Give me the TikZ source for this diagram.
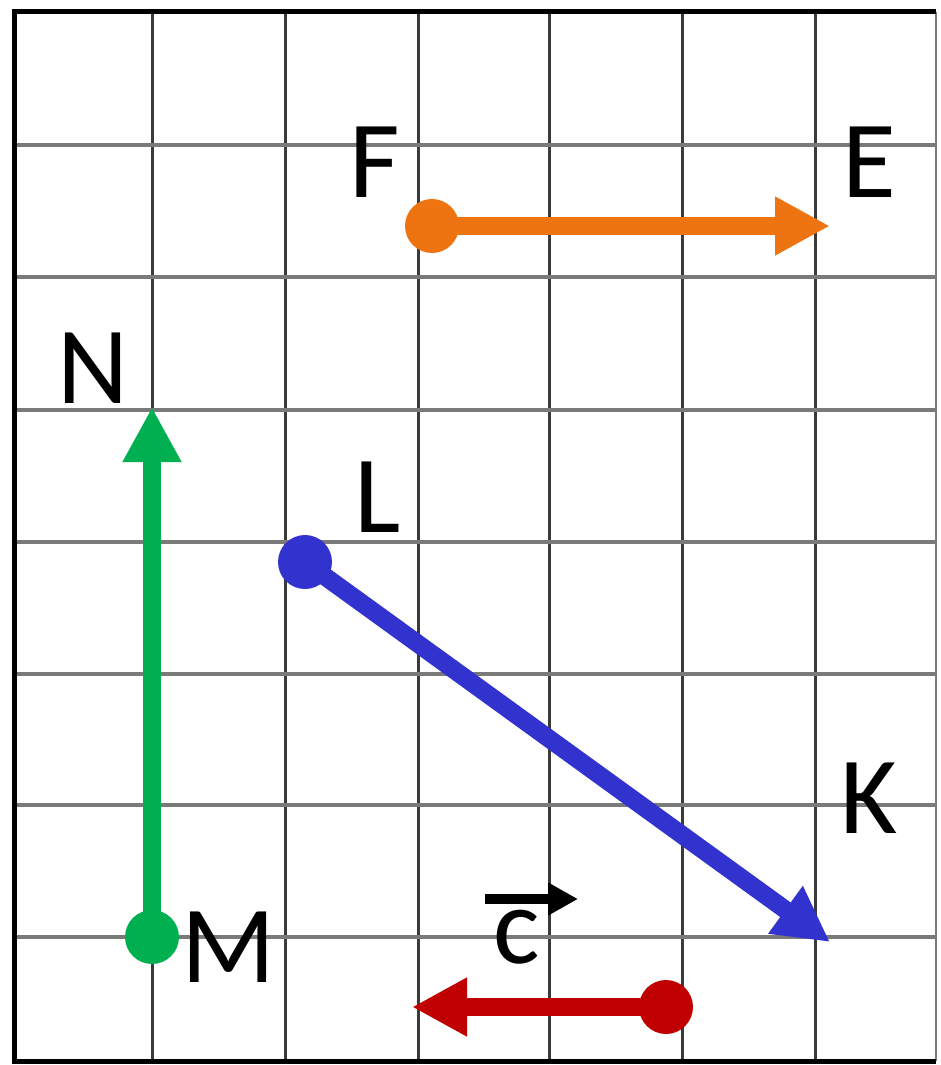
\documentclass[tikz,border=0pt]{standalone}
\usepackage{fontspec}
\setmainfont{Carlito}
\usetikzlibrary{arrows.meta}
\definecolor{vorange}{HTML}{EE7411}
\definecolor{vgreen}{HTML}{00B050}
\definecolor{vblue}{HTML}{3232CF}
\definecolor{vred}{HTML}{C00000}
\definecolor{hgrid}{HTML}{7A7A7A}
\definecolor{vgrid}{HTML}{3A3A3A}
\begin{document}
\begin{tikzpicture}[x=1pt,y=-1pt,
  vec/.style={line width=18pt,-{Triangle[length=55pt,width=55pt]}},
  dot/.style={circle,fill,inner sep=0pt,minimum size=54pt},
  lbl/.style={anchor=base,inner sep=0pt,font=\fontsize{110}{120}\selectfont}]
\useasboundingbox (0,0) rectangle (940,1065);
\fill[white] (0,0) rectangle (940,1065);
% grid
\foreach \x in {152,285,418,549,682,815} \draw[vgrid,line width=3pt] (\x,12) -- (\x,1061);
\foreach \y in {145,277,410,542,674,805,937} \draw[hgrid,line width=4pt] (14,\y) -- (936,\y);
\draw[hgrid,line width=2pt] (936,12) -- (936,1061);
\draw[black,line width=5pt] (936,12) -- (14,12) -- (14,1061) -- (936,1061);
% points
\coordinate (E) at (830,226);
\coordinate (N) at (152,407);
\coordinate (K) at (830,942);
\coordinate (Rtip) at (412,1007);
\node[dot,vorange] (F) at (432,226) {};
\node[dot,vgreen] (M) at (152,937) {};
\node[dot,vblue] (L) at (305,562) {};
\node[dot,vred] (R) at (666,1007) {};
% vectors
\draw[vec,vorange] (F.center) -- (E);
\draw[vec,vgreen] (M.center) -- (N);
\draw[vec,vblue] (L.center) -- (K);
\draw[vec,vred] (R.center) -- (Rtip);
% labels
\node[lbl] (tF) at (375,197) {F};
\node[lbl] (tE) at (869,197) {E};
\node[lbl] (tN) at (93,403) {N};
\node[lbl] (tL) at (378,532) {L};
\node[lbl] (tK) at (869,833) {K};
\node[lbl] (tM) at (229,982) {M};
\node[lbl] (tc) at (517,963) {c};
\coordinate (ca) at (485,899);
\coordinate (cb) at (578,899);
\draw[line width=10pt,-{Triangle[length=30pt,width=31pt]}] (ca) -- (cb);
\end{tikzpicture}
\end{document}
